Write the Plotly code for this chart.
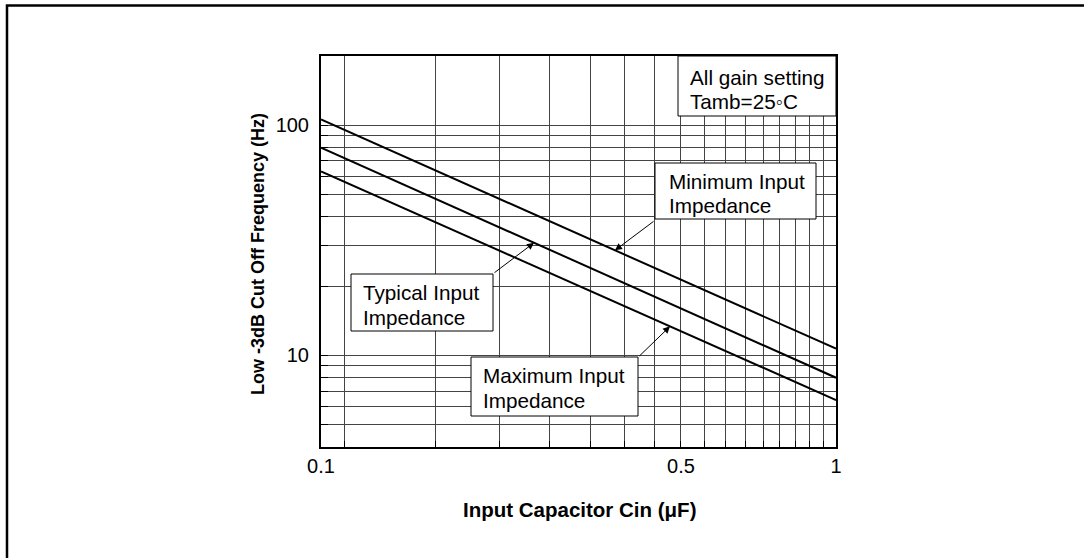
import math
import plotly.graph_objects as go

# ---------------- data ----------------
cap_uF = [0.1, 1.0]                      # input capacitor (µF)
f_min_imp = [106.0, 10.7]                # Minimum input impedance (Hz)
f_typ_imp = [80.0, 8.0]                  # Typical input impedance (Hz)
f_max_imp = [63.0, 6.4]                  # Maximum input impedance (Hz)

x_grid = [0.111, 0.167, 0.222, 0.278, 0.333, 0.389, 0.444, 0.5,
          0.556, 0.611, 0.667, 0.722, 0.778, 0.833, 0.889, 0.944, 1.0]
x_tick_labels = {0.1: "0.1", 0.5: "0.5", 1.0: "1"}
y_grid = [5, 6, 7, 8, 9, 10, 20, 30, 40, 50, 60, 70, 80, 90, 100]
y_tick_labels = {10: "10", 100: "100"}

# ---------------- layout geometry (pixels) ----------------
W_FIG, H_FIG = 1084, 558
L, T, R, B = 321, 56, 836, 447
PW, PH = R - L, B - T
YMIN, YMAX = 4, 200
FONT = "Liberation Sans, Arial, Helvetica, sans-serif"


def px(xp):
    return (xp - L) / PW


def py(yp):
    return (B - yp) / PH


def log_on_line(xs, ys, xv):
    lx0, lx1 = math.log10(xs[0]), math.log10(xs[-1])
    ly0, ly1 = math.log10(ys[0]), math.log10(ys[-1])
    lx = math.log10(xv)
    return ly0 + (lx - lx0) * (ly1 - ly0) / (lx1 - lx0)


fig = go.Figure()
for ys in (f_min_imp, f_typ_imp, f_max_imp):
    fig.add_trace(go.Scatter(x=cap_uF, y=ys, mode="lines",
                             line=dict(color="black", width=2),
                             showlegend=False, hoverinfo="skip"))

x_tickvals = [0.1] + x_grid
x_ticktext = [x_tick_labels.get(v, "") for v in x_tickvals]
y_ticktext = [y_tick_labels.get(v, "") for v in y_grid]

fig.update_xaxes(type="log", range=[math.log10(cap_uF[0]), math.log10(cap_uF[-1])],
                 tickmode="array", tickvals=x_tickvals, ticktext=x_ticktext,
                 ticks="inside", ticklen=6, tickwidth=1, tickcolor="black",
                 showgrid=True, gridcolor="#444", gridwidth=1,
                 showline=True, linecolor="black", linewidth=2, mirror=True,
                 tickfont=dict(family=FONT, size=20, color="black"))
fig.update_yaxes(type="log", range=[math.log10(YMIN), math.log10(YMAX)],
                 tickmode="array", tickvals=y_grid, ticktext=y_ticktext,
                 ticks="inside", ticklen=7, tickwidth=1, tickcolor="black",
                 ticklabelstandoff=6,
                 showgrid=True, gridcolor="#444", gridwidth=1,
                 showline=True, linecolor="black", linewidth=2, mirror=True,
                 tickfont=dict(family=FONT, size=20, color="black"))

shapes = []
# outer frame (right and bottom edges lie outside the page)
shapes.append(dict(type="rect", xref="paper", yref="paper",
                   x0=px(7), x1=px(1100), y0=py(600), y1=py(5.5),
                   line=dict(color="black", width=2.5), layer="above"))
# label boxes (pixel boxes)
boxes = [(678, 56, 836, 116), (655, 163, 816, 219),
         (351, 274, 493, 331), (471, 357, 638, 416)]
for x0, y0, x1, y1 in boxes:
    shapes.append(dict(type="rect", xref="paper", yref="paper",
                       x0=px(x0), x1=px(x1), y0=py(y1), y1=py(y0),
                       fillcolor="white", line=dict(color="black", width=1),
                       layer="above"))

annotations = []
texts = [
    (689, 77, "All gain setting"), (689, 100, "Tamb=25◦C"),
    (668, 180, "Minimum Input"), (668, 204, "Impedance"),
    (362, 291, "Typical Input"), (362, 316, "Impedance"),
    (482, 374, "Maximum Input"), (482, 399, "Impedance"),
]
for xp_, yp_, t in texts:
    annotations.append(dict(xref="paper", yref="paper", x=px(xp_ - 1), y=py(yp_ + 1),
                            xanchor="left", yanchor="middle", showarrow=False,
                            text=t, font=dict(family=FONT, size=20.7, color="black")))

# arrows (tip on a curve, tail at a box corner, offsets in px)
arrows = [(f_min_imp, 615, 40, -30), (f_typ_imp, 534, -41, 31), (f_max_imp, 670, -32, 31)]
for ys, tip_xp, ax, ay in arrows:
    lx = -1 + (tip_xp - L) / PW
    xv = 10 ** lx
    ly = log_on_line(cap_uF, ys, xv)
    annotations.append(dict(xref="x", yref="y", x=lx, y=ly, ax=ax, ay=ay,
                            text="", showarrow=True, arrowhead=2, arrowsize=1.4,
                            arrowwidth=1, arrowcolor="black"))

# axis titles
annotations.append(dict(xref="paper", yref="paper", x=px(579), y=py(509),
                        xanchor="center", yanchor="middle", showarrow=False,
                        text="<b>Input Capacitor Cin (μF)</b>",
                        font=dict(family=FONT, size=20.5, color="black")))
annotations.append(dict(xref="paper", yref="paper", x=px(258), y=py(254),
                        xanchor="center", yanchor="middle", showarrow=False,
                        textangle=-90,
                        text="<b>Low -3dB Cut Off Frequency (Hz)</b>",
                        font=dict(family=FONT, size=18, color="black")))

fig.update_layout(width=W_FIG, height=H_FIG,
                  margin=dict(l=L, r=W_FIG - R, t=T, b=H_FIG - B, pad=0, autoexpand=False),
                  paper_bgcolor="white", plot_bgcolor="white",
                  shapes=shapes, annotations=annotations, showlegend=False)

fig.write_html("out.html", config={"displayModeBar": False},
               post_script="document.body.style.margin='0';document.body.style.overflow='hidden';")
